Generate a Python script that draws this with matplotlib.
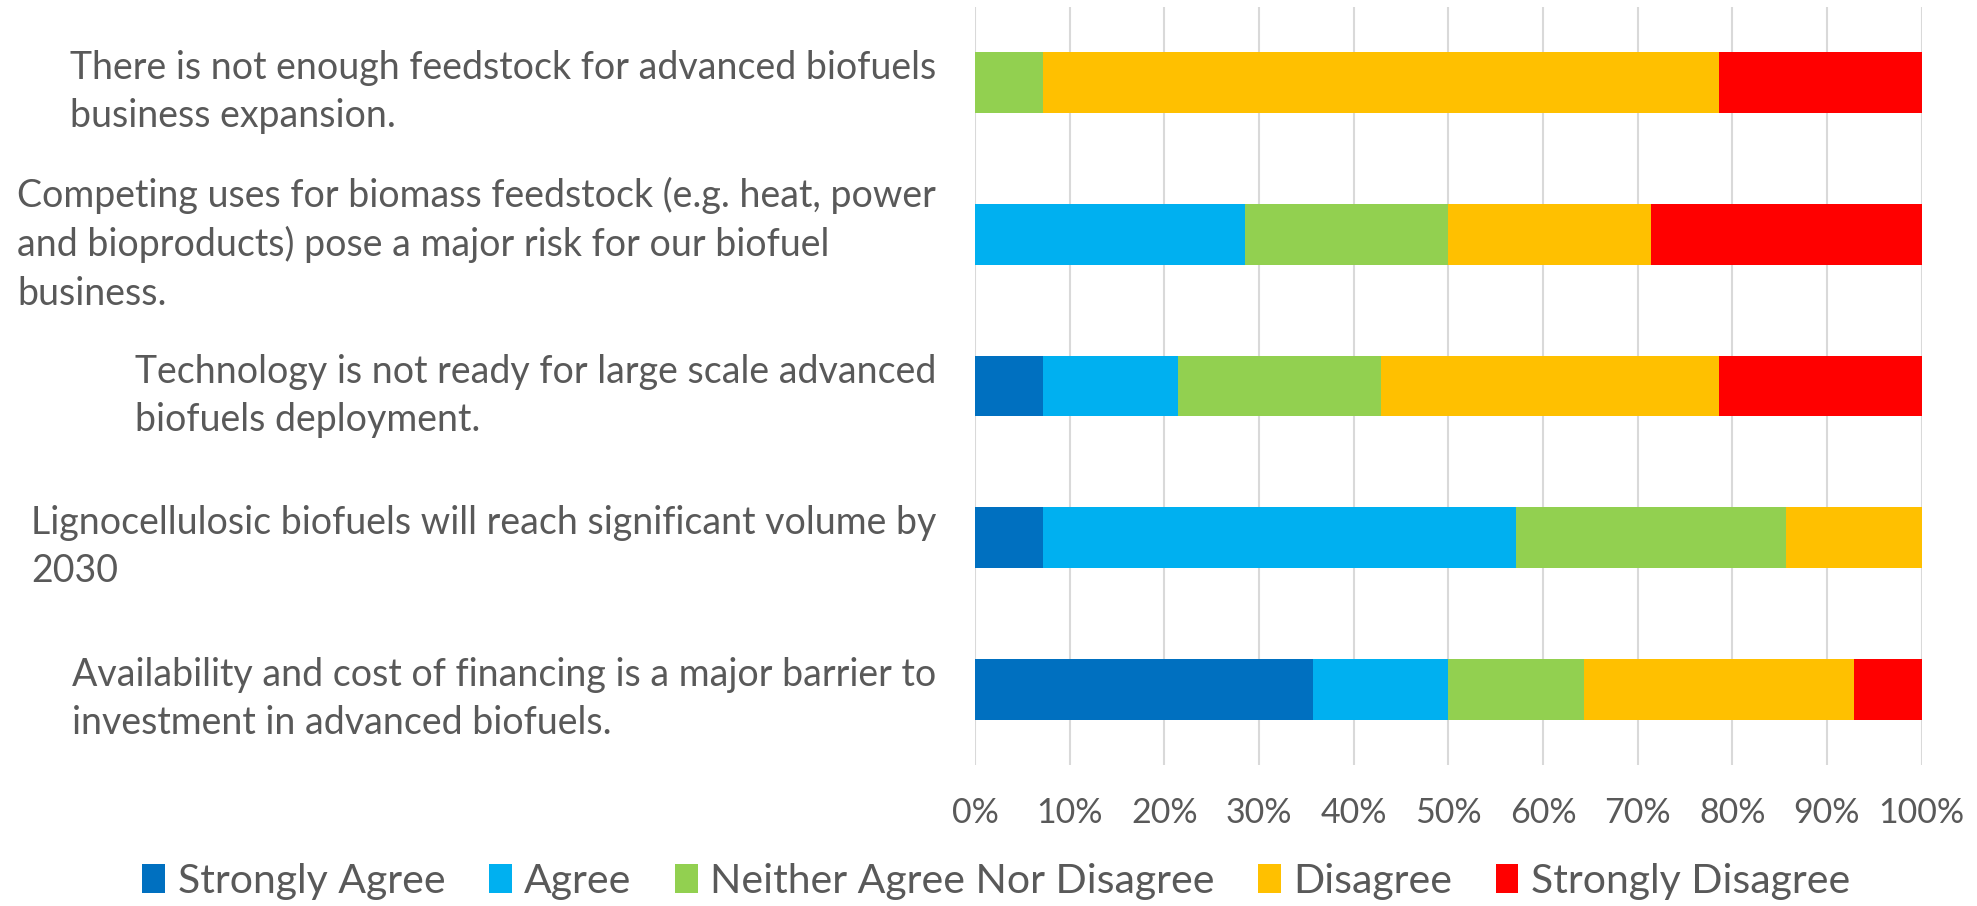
import matplotlib.pyplot as plt
import matplotlib
import numpy as np

matplotlib.rcParams.update({'font.family': 'Lato', 'font.size': 24})

# Data (top to bottom as shown) ------------------------------------------------
statements = ['There is not enough feedstock for advanced biofuels\nbusiness expansion.',
              'Competing uses for biomass feedstock (e.g. heat, power\n'
              'and bioproducts) pose a major risk for our biofuel\nbusiness.',
              'Technology is not ready for large scale advanced\nbiofuels deployment.',
              'Lignocellulosic biofuels will reach significant volume by\n2030',
              'Availability and cost of financing is a major barrier to\n'
              'investment in advanced biofuels.']

categories = ['Strongly Agree', 'Agree', 'Neither Agree Nor Disagree',
              'Disagree', 'Strongly Disagree']
colors = ['#0070C0', '#00B0F0', '#92D050', '#FFC000', '#FF0000']

strongly_agree = [0.0, 0.0, 7.14, 7.14, 35.71]
agree = [0.0, 28.57, 14.29, 50.0, 14.29]
neither = [7.14, 21.43, 21.43, 28.57, 14.29]
disagree = [71.43, 21.43, 35.71, 14.29, 28.57]
strongly_disagree = [21.43, 28.57, 21.43, 0.0, 7.14]

series = [strongly_agree, agree, neither, disagree, strongly_disagree]

# -----------------------------------------------------------------------------
fig = plt.figure(figsize=(19.77, 9.06), dpi=100)
ax = fig.add_axes([0.4932, 0.1556, 0.4788, 0.8367])

y = np.arange(len(statements))
left = np.zeros(len(statements))
for vals, name, col in zip(series, categories, colors):
    vals = np.array(vals)
    ax.barh(y, vals, left=left, height=0.4, color=col, label=name)
    left += vals

ax.set_ylim(len(statements) - 0.5, -0.5)
ax.set_xlim(0, 100)
ax.set_xticks(np.arange(0, 101, 10))
ax.set_xticklabels(['{}%'.format(v) for v in range(0, 101, 10)])
ax.set_yticks(y)
ax.set_yticklabels(statements, fontsize=27)
for t in ax.get_yticklabels():
    t.set_multialignment('left')
    t.set_linespacing(1.42)

ax.tick_params(axis='both', length=0, colors='#595959')
ax.tick_params(axis='x', pad=23, labelsize=24.5)
ax.tick_params(axis='y', pad=28)
for s in ['bottom', 'left', 'top', 'right']:
    ax.spines[s].set_visible(False)

ax.grid(True, axis='x', color='#D9D9D9', linewidth=1.5)
ax.set_axisbelow(True)

leg = fig.legend(loc='center', bbox_to_anchor=(0.504, 0.027), ncol=5,
                 frameon=False, fontsize=29.5, handlelength=0.56,
                 handleheight=0.72, handletextpad=0.31, columnspacing=1.05)
for t in leg.get_texts():
    t.set_color('#595959')

if __name__ == '__main__':
    plt.savefig('out.png', dpi=100)
